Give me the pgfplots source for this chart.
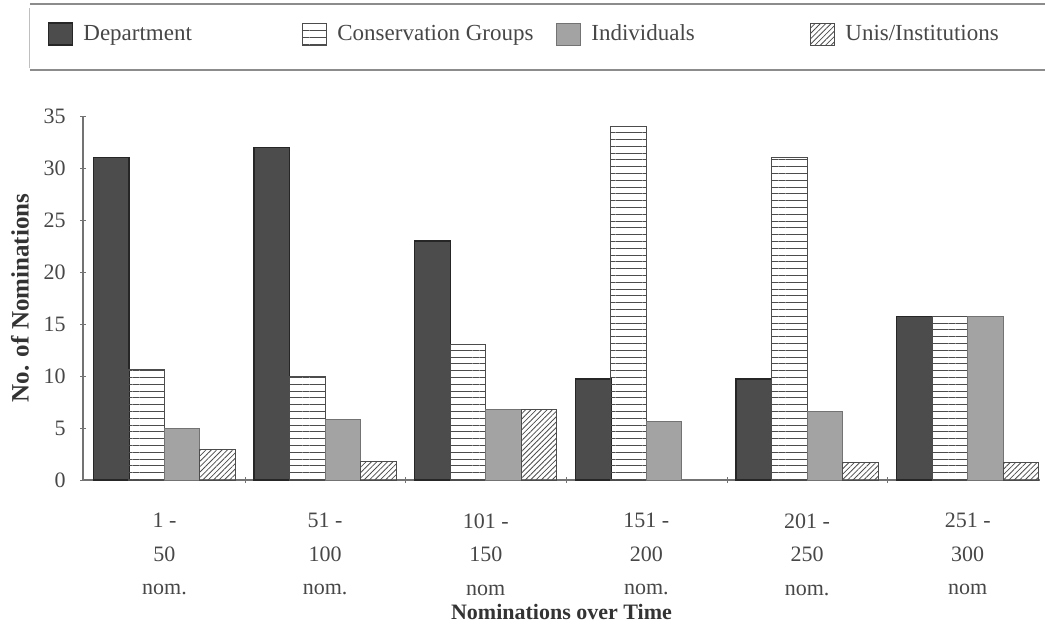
\documentclass[border=0pt]{standalone}
\usepackage{fontspec}
\setmainfont{Liberation Serif}
\usepackage{pgfplots}
\pgfplotsset{compat=1.18}
\usetikzlibrary{patterns,patterns.meta}
\definecolor{txt}{gray}{0.28}
\definecolor{deptfill}{gray}{0.30}
\definecolor{indfill}{gray}{0.64}
\begin{document}
\begin{tikzpicture}
\useasboundingbox (-41.5pt,-74.5pt) rectangle (481pt,240pt);
\draw[black!45, line width=0.6pt] (-26.5pt,238pt) -- (481pt,238pt);
\draw[black!45, line width=0.6pt] (-26.5pt,205pt) -- (481pt,205pt);
\draw[black!25, line width=0.5pt] (-26.5pt,206pt) -- (-26.5pt,236pt);
\begin{axis}[
  scale only axis, width=478.5pt, height=182pt,
  xmin=-0.507, xmax=5.45, ymin=0, ymax=35,
  ybar=0pt, bar width=17.75pt,
  axis x line*=bottom, axis y line*=left,
  axis line style={black!55, line width=0.6pt},
  /pgf/number format/assume math mode=true,
  xtick={0,...,5},
  xticklabels={{1 -\\50\\nom.},{51 -\\100\\nom.},{101 -\\150\\nom},{151 -\\200\\nom.},{201 -\\250\\nom.},{251 -\\300\\nom}},
  major x tick style={draw=none},
  minor xtick={0.5,1.5,2.5,3.5,4.5},
  minor x tick style={draw=black!55},
  minor tick length=3pt,
  ytick={0,5,...,35},
  tick align=center, major tick length=3pt,
  ytick style={draw=black!55},
  yticklabel style={font=\fontsize{11}{13}\selectfont, text=txt, inner sep=0pt, xshift=-7pt},
  xticklabel style={font=\fontsize{11}{16.75}\selectfont, align=center, text=txt, anchor=north, inner sep=0pt, yshift=-15pt},
  xlabel={Nominations over Time},
  xlabel style={font=\bfseries\fontsize{11}{13}\selectfont, at={(axis description cs:0.5,-0.3626)}, anchor=center, text=black!80},
  ylabel={No. of Nominations},
  ylabel style={font=\bfseries\fontsize{12.5}{14}\selectfont, at={(axis description cs:-0.0658,0.5)}, anchor=center, text=black!80},
  legend columns=4,
  legend style={at={(axis description cs:0,1)}, anchor=west, xshift=-17.5pt, yshift=41pt, draw=none, fill=none, inner sep=0pt, outer sep=0pt, font=\fontsize{11.5}{13}\selectfont, text=txt, /tikz/every odd column/.append style={column sep=5pt}, nodes={inner sep=0pt}},
  legend image code/.code={\draw[#1] (0pt,-5.5pt) rectangle (12pt,5.5pt);},
]
\addplot[fill=deptfill, draw=black!85, line width=0.7pt] coordinates {(0,31) (1,32) (2,23) (3,9.7) (4,9.7) (5,15.7)};
\addplot[pattern={Lines[angle=0, distance=3.4pt, line width=0.45pt]}, pattern color=black!70, draw=black!70, line width=0.5pt] coordinates {(0,10.6) (1,10) (2,13) (3,34) (4,31) (5,15.7)};
\addplot[fill=indfill, draw=black!55, line width=0.5pt] coordinates {(0,5) (1,5.8) (2,6.8) (3,5.6) (4,6.6) (5,15.7)};
\addplot[pattern={Lines[angle=45, distance=1.9pt, line width=0.4pt]}, pattern color=black!70, draw=black!70, line width=0.5pt] coordinates {(0,2.9) (1,1.8) (2,6.8) (4,1.7) (5,1.7)};
\addlegendentry{\makebox[109.5pt][l]{Department}}
\addlegendentry{\makebox[109.5pt][l]{Conservation Groups}}
\addlegendentry{\makebox[109.5pt][l]{Individuals}}
\addlegendentry{Unis/Institutions}
\end{axis}
\end{tikzpicture}
\end{document}
